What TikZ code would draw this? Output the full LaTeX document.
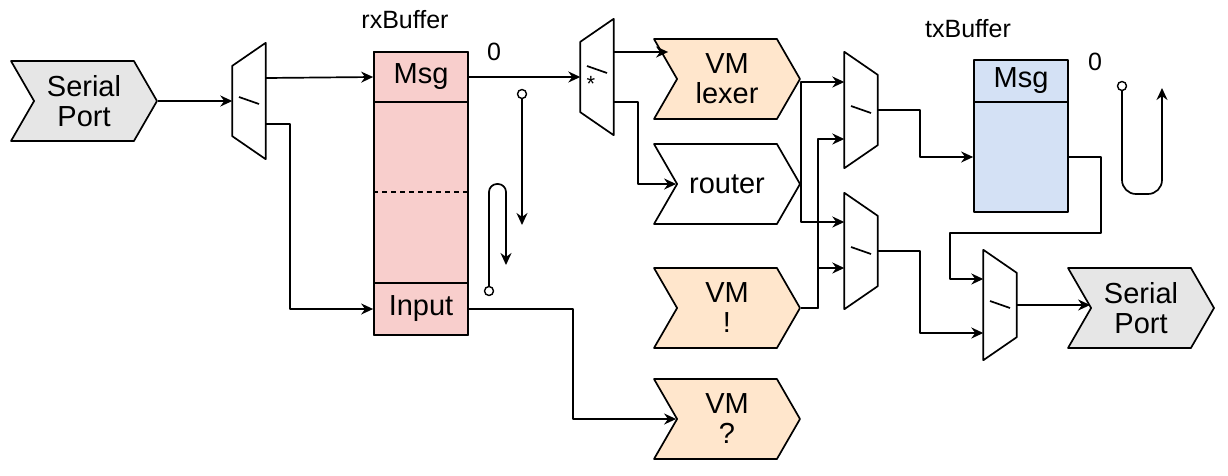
\documentclass[tikz,border=0pt]{standalone}
\usepackage{fontspec}
\setmainfont{Liberation Sans}
\usetikzlibrary{shapes.symbols,arrows.meta}
\definecolor{portgray}{HTML}{E6E6E6}
\definecolor{vmorange}{HTML}{FFE6CC}
\definecolor{rxpink}{HTML}{F8CECC}
\definecolor{txblue}{HTML}{D4E1F5}
\tikzset{
  chev/.style={signal, signal to=east, signal from=west, signal pointer angle=120, draw, line width=1.7pt,
    minimum width=146pt, minimum height=80pt, inner sep=0pt, align=center, font=\fontsize{29}{30}\selectfont},
  muxbox/.style={minimum width=33pt, minimum height=116pt, inner sep=0pt, draw=none},
  cell/.style={draw, line width=1.7pt, minimum width=94pt, inner sep=0pt, font=\fontsize{29}{30}\selectfont},
  wire/.style={line width=1.7pt},
  arr/.style={wire, -{Stealth[length=12pt,width=11pt]}},
  port/.style={circle, draw, line width=1.4pt, fill=white, minimum size=9pt, inner sep=0pt},
  lbl/.style={font=\fontsize{25}{27}\selectfont}
}
% mux, wide side right / left
\newcommand\muxwr[1]{\draw[wire] (#1.north east) -- (#1.south east) -- ([yshift=23pt]#1.south west) -- ([yshift=-23pt]#1.north west) -- cycle;
  \draw[wire] ([shift={(-10pt,4pt)}]#1.center) -- ([shift={(10pt,-3pt)}]#1.center);}
\newcommand\muxwl[1]{\draw[wire] (#1.north west) -- (#1.south west) -- ([yshift=23pt]#1.south east) -- ([yshift=-23pt]#1.north east) -- cycle;
  \draw[wire] ([shift={(-10pt,4pt)}]#1.center) -- ([shift={(10pt,-3pt)}]#1.center);}
\begin{document}
\begin{tikzpicture}[x=1pt,y=-1pt,line join=round]
  \useasboundingbox (0,0) rectangle (1228,475);
  % sources and sinks
  \node[chev, fill=portgray] (sp1) at (84,101) {Serial\\Port};
  \node[chev, fill=vmorange] (lexer) at (727,79) {VM\\lexer};
  \node[chev] (router) at (727,184) {router};
  \node[chev, fill=vmorange] (vmx) at (727,308) {VM\\!};
  \node[chev, fill=vmorange] (vmq) at (727,419) {VM\\?};
  \node[chev, fill=portgray] (sp2) at (1141,308) {Serial\\Port};
  % muxes
  \node[muxbox] (m1) at (249,101) {}; \muxwr{m1}
  \node[muxbox] (m2) at (597,77) {};
  \draw[wire] (m2.north east) -- (m2.south east) -- ([yshift=23pt]m2.south west) -- ([yshift=-23pt]m2.north west) -- cycle;
  \draw[wire] ([shift={(-10pt,11pt)}]m2.center) -- ([shift={(10pt,4pt)}]m2.center);
  \node[font=\fontsize{22}{22}\selectfont] (star) at ([shift={(-6pt,-7pt)}]m2.center) {*};
  \node[muxbox] (m3) at (861,110) {}; \muxwl{m3}
  \node[muxbox] (m4) at (861,251) {}; \muxwl{m4}
  \node[muxbox, minimum height=110pt] (m5) at (1000,305) {}; \muxwl{m5}
  % rxBuffer
  \node[draw, line width=1.7pt, fill=rxpink, minimum width=94pt, minimum height=283pt, inner sep=0pt] (rx) at (421,193.5) {};
  \node[cell, minimum height=50pt] (rxmsg) at (421,77) {Msg};
  \node[cell, minimum height=52pt] (rxin) at (421,309) {Input};
  \draw[wire, dash pattern=on 5pt off 4pt] (rx.west |- 0,192) -- (rx.east |- 0,192);
  \node[lbl] (rxlbl) at (405,20) {rxBuffer};
  \node[lbl] (rx0) at (494,52) {0};
  % txBuffer
  \node[cell, fill=txblue, minimum height=42pt] (txmsg) at (1021,81) {Msg};
  \node[cell, fill=txblue, minimum height=110pt] (txbody) at (1021,157) {};
  \node[lbl] (txlbl) at (968,29) {txBuffer};
  \node[lbl] (tx0) at (1095,62) {0};
  % connectors
  \draw[arr] (sp1.east) -- (m1.west);
  \draw[arr] ([yshift=23pt]m1.east) -- (rxmsg.west);
  \draw[arr] ([yshift=-23pt]m1.east) -- ++(24,0) |- (rxin.west);
  \draw[arr] (rxmsg.east) -- (m2.west);
  \draw[arr] ([yshift=25pt]m2.east) -- ([yshift=25pt,xshift=-8pt]m2.east -| lexer.west);
  \draw[arr] ([yshift=-25pt]m2.east) -- ++(24,0) |- (router.west);
  \draw[arr] (rxin.east) -- ++(104,0) |- (vmq.west);
  \draw[arr] (router.east) |- ([yshift=28pt]m3.west);
  \draw[arr] (router.east) |- ([yshift=29pt]m4.west);
  \draw[arr] (vmx.east) -- ++(17,0) |- ([yshift=-29pt]m3.west);
  \draw[arr] (vmx.east) -- ++(17,0) |- ([yshift=-17pt]m4.west);
  \draw[arr] (m3.east) -- ++(42,0) |- (txbody.west);
  \draw[arr] (m4.east) -- ++(42,0) |- ([yshift=-28pt]m5.west);
  \coordinate (t1) at (1101,233);
  \coordinate (t2) at (950,233);
  \draw[arr] (txbody.east) -| (t1) -- (t2) |- ([yshift=26pt]m5.west);
  \draw[arr] (m5.east) -- (m5.east -| sp2.west);
  % pointers
  \node[port] (c1) at (522,94) {};
  \coordinate (e1) at (522,225);
  \draw[arr] (c1) -- (e1);
  \node[port] (c2) at (489,291) {};
  \coordinate (e2) at (506,265);
  \draw[arr, rounded corners=8pt] (c2) -- (489,184) -- (506,184) -- (e2);
  \node[port] (c3) at (1122,86) {};
  \coordinate (e3) at (1162,88);
  \draw[arr, rounded corners=14pt] (c3) -- (1122,194) -- (1162,194) -- (e3);
\end{tikzpicture}
\end{document}
